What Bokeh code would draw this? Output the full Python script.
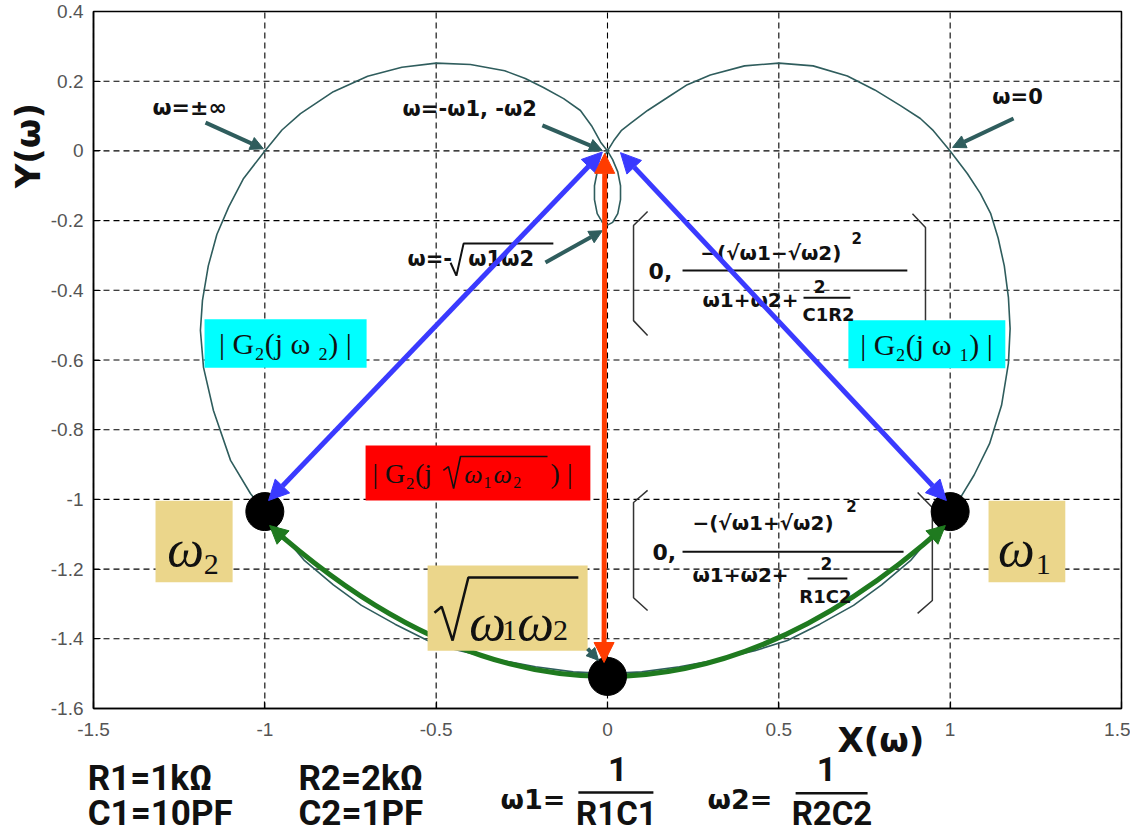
import math
from bokeh.plotting import figure
from bokeh.models import Range1d, FixedTicker, Label, Arrow, NormalHead, LinearAxis
from bokeh.embed import file_html
from bokeh.resources import INLINE

# Locus of G2(jw): w = 0 -> +inf, then -inf -> 0 (small loop around w = -sqrt(w1 w2))
locus_x = [1.000, 1.050, 1.088, 1.118, 1.140, 1.158, 1.170, 1.175, 1.170, 1.150,
           1.115, 1.070, 1.030, 1.000, 0.945, 0.884, 0.800, 0.718, 0.620, 0.525,
           0.430, 0.320, 0.210, 0.100, 0.000, -0.100, -0.210, -0.320, -0.449, -0.525,
           -0.620, -0.718, -0.800, -0.884, -0.945, -1.000, -1.042, -1.100, -1.150, -1.179,
           -1.188, -1.182, -1.165, -1.140, -1.105, -1.062, -1.000, -0.950, -0.896, -0.800,
           -0.700, -0.600, -0.500, -0.400, -0.300, -0.240, -0.187, -0.128, -0.079, -0.045,
           -0.020, 0.000, 0.015, 0.030, 0.038, 0.038, 0.030, 0.015, 0.000, -0.015,
           -0.030, -0.038, -0.038, -0.030, -0.015, 0.000, 0.018, 0.040, 0.067, 0.117,
           0.184, 0.233, 0.300, 0.400, 0.500, 0.600, 0.700, 0.780, 0.855, 0.913,
           0.951, 1.000]
locus_y = [0.000, -0.065, -0.122, -0.179, -0.250, -0.330, -0.420, -0.510, -0.610, -0.730,
           -0.840, -0.930, -0.995, -1.035, -1.105, -1.176, -1.245, -1.304, -1.358, -1.405,
           -1.434, -1.460, -1.480, -1.495, -1.500, -1.495, -1.480, -1.460, -1.430, -1.405,
           -1.358, -1.304, -1.245, -1.176, -1.105, -1.035, -0.983, -0.888, -0.745, -0.621,
           -0.515, -0.429, -0.330, -0.240, -0.160, -0.079, 0.000, 0.060, 0.107, 0.170,
           0.214, 0.240, 0.252, 0.248, 0.230, 0.208, 0.182, 0.150, 0.116, 0.070,
           0.025, 0.000, -0.025, -0.060, -0.100, -0.140, -0.180, -0.205, -0.213, -0.205,
           -0.180, -0.140, -0.100, -0.060, -0.025, 0.000, 0.029, 0.058, 0.079, 0.116,
           0.159, 0.190, 0.218, 0.244, 0.252, 0.244, 0.215, 0.175, 0.130, 0.093,
           0.058, 0.000]

# Marked frequencies: w2, sqrt(w1 w2), w1
mark_x = [-1.0, 0.0, 1.0]
mark_y = [-1.035, -1.508, -1.035]

# Called-out points: w=+-inf, w=-w1,-w2, w=-sqrt(w1 w2), w=0
call_x = [-1.0, 0.0, 0.0, 1.0]
call_y = [0.0, 0.0, -0.213, 0.0]

x_ticks = [-1.5, -1.0, -0.5, 0.0, 0.5, 1.0, 1.5]
x_tick_labels = ["-1.5", "-1", "-0.5", "0", "0.5", "1", "1.5"]
y_ticks = [0.4, 0.2, 0.0, -0.2, -0.4, -0.6, -0.8, -1.0, -1.2, -1.4, -1.6]
y_tick_labels = ["0.4", "0.2", "0", "-0.2", "-0.4", "-0.6", "-0.8", "-1", "-1.2", "-1.4", "-1.6"]

SERIF = "Liberation Serif"
PIX = "DejaVu Sans"
COND = "Roboto"
TEAL = "#2f5d5d"
INK = "#111111"
BLUE = "#3a3aff"
RED = "#ff3c00"
GREEN = "#1f7a1f"
CYAN = "#00ffff"
TAN = "#ebd68b"

X0, X1 = x_ticks[0], x_ticks[-1]
Y0, Y1 = y_ticks[-1], y_ticks[0]

# The canvas is one big frame; the plotting box sits inside it so the captions
# around it (axis titles, component values) can be placed freely.
p = figure(width=1130, height=836, x_range=Range1d(-1.7714, 1.5263), y_range=Range1d(-1.9673, 0.4316),
           output_backend="svg", toolbar_location=None, min_border=0,
           x_axis_location=None, y_axis_location=None)
p.grid.visible = False
p.outline_line_color = None
p.background_fill_color = "white"
p.border_fill_color = "white"

xaxis = LinearAxis(ticker=FixedTicker(ticks=x_ticks), fixed_location=Y0, bounds=(X0, X1),
                   major_label_overrides=dict(zip(x_ticks, x_tick_labels)),
                   major_label_standoff=15)
yaxis = LinearAxis(ticker=FixedTicker(ticks=y_ticks), fixed_location=X0, bounds=(Y0, Y1),
                   major_label_overrides=dict(zip(y_ticks, y_tick_labels)),
                   major_label_standoff=10)
for ax in (xaxis, yaxis):
    ax.axis_line_width = 1.5
    ax.axis_line_color = "black"
    ax.major_tick_in = 7
    ax.major_tick_out = 0
    ax.major_tick_line_color = "black"
    ax.major_tick_line_width = 1.2
    ax.minor_tick_line_color = None
    ax.major_label_text_font = "Liberation Sans"
    ax.major_label_text_font_size = "19px"
    ax.major_label_text_color = "#555555"
p.add_layout(xaxis, "below")
p.add_layout(yaxis, "left")

# dashed grid and the plotting box
nx, ny = len(x_ticks), len(y_ticks)
p.segment(x0=x_ticks, y0=[Y0] * nx, x1=x_ticks, y1=[Y1] * nx,
          line_color="black", line_dash="6 4", line_width=1.1)
p.segment(x0=[X0] * ny, y0=y_ticks, x1=[X1] * ny, y1=y_ticks,
          line_color="black", line_dash="6 4", line_width=1.1)
p.quad(left=[X0], right=[X1], bottom=[Y0], top=[Y1], fill_color=None,
       line_color="black", line_width=1.5)


def put(x, y, text, size, font=PIX, style="bold", align="left", baseline="middle",
        angle=0.0, color=INK):
    p.add_layout(Label(x=x, y=y, text=text, text_font=font, text_font_size=f"{size}px",
                       text_font_style=style, text_align=align, text_baseline=baseline,
                       angle=angle, text_color=color))


def arrow(x0, y0, x1, y1, color, width, size, both=False):
    head = lambda: NormalHead(size=size, fill_color=color, line_color=color)
    p.add_layout(Arrow(x_start=x0, y_start=y0, x_end=x1, y_end=y1,
                       start=head() if both else None, end=head(),
                       line_color=color, line_width=width))


# --- bracketed formula for w = -sqrt(w1 w2) ---
p.line([0.117, 0.076, 0.076, 0.117], [-0.174, -0.214, -0.487, -0.530], line_color="#333", line_width=1.5)
p.line([0.890, 0.928, 0.928, 0.890], [-0.180, -0.220, -0.495, -0.535], line_color="#333", line_width=1.5)
p.line([0.219, 0.875], [-0.343, -0.343], line_color=INK, line_width=2)
p.line([0.572, 0.709], [-0.421, -0.421], line_color=INK, line_width=2)

# --- bracketed formula for w = sqrt(w1 w2) ---
p.line([0.117, 0.076, 0.076, 0.117], [-0.974, -1.009, -1.282, -1.319], line_color="#333", line_width=1.5)
p.line([0.905, 0.948, 0.948, 0.905], [-0.980, -1.023, -1.290, -1.327], line_color="#333", line_width=1.5)
p.line([0.219, 0.864], [-1.150, -1.150], line_color=INK, line_width=2)
p.line([0.584, 0.700], [-1.227, -1.227], line_color=INK, line_width=2)

# radical in the w = -sqrt(w1 w2) call-out
p.line([-0.458, -0.441, -0.420, -0.158], [-0.321, -0.358, -0.266, -0.266], line_color=INK, line_width=2)

# --- the locus itself ---
p.line(locus_x, locus_y, line_color=TEAL, line_width=1.6)

# green arc from w2 through sqrt(w1 w2) to w1
gx0, gy0 = mark_x[0] + 0.014, mark_y[0] - 0.040
gx1, gy1 = mark_x[2] - 0.014, mark_y[2] - 0.040
gcx = mark_x[1]
gcy = 2 * mark_y[1] - 0.5 * (gy0 + gy1)
p.quadratic(x0=[gx0], y0=[gy0], x1=[gx1], y1=[gy1], cx=[gcx], cy=[gcy],
            line_color=GREEN, line_width=5)

# --- coloured boxes ---
p.quad(left=[-1.176, 0.703], right=[-0.703, 1.161], top=[-0.483, -0.486], bottom=[-0.622, -0.624],
       fill_color=CYAN, line_color=None)
p.quad(left=[-0.706], right=[-0.050], top=[-0.845], bottom=[-1.003], fill_color="#ff0000", line_color=None)
p.quad(left=[-1.319, 1.112, -0.525], right=[-1.094, 1.336, -0.058],
       top=[-1.004, -1.004, -1.190], bottom=[-1.238, -1.238, -1.434], fill_color=TAN, line_color=None)

# radicals inside the red and tan boxes
p.line([-0.479, -0.464, -0.449, -0.429, -0.175], [-0.917, -0.906, -0.969, -0.877, -0.877],
       line_color=INK, line_width=1.6)
p.line([-0.505, -0.484, -0.452, -0.406, -0.085], [-1.325, -1.308, -1.405, -1.224, -1.224],
       line_color=INK, line_width=2.5)

# fraction bars of w1, w2 definitions
p.line([-0.085, 0.134], [-1.841, -1.841], line_color=INK, line_width=2.5)
p.line([0.549, 0.759], [-1.843, -1.843], line_color=INK, line_width=2.5)

# frequency markers
p.scatter(mark_x, mark_y, size=38, color="black")

# --- texts of the two formulas ---
put(0.120, -0.344, "0,", 22)
put(0.271, -0.292, "−(√ω1−√ω2)", 20)
put(0.727, -0.249, "2", 15, align="center")
put(0.277, -0.429, "ω1+ω2+", 20)
put(0.619, -0.390, "2", 17, align="center")
put(0.645, -0.470, "C1R2", 18, align="center")

put(0.131, -1.150, "0,", 22)
put(0.248, -1.069, "−(√ω1+√ω2)", 20)
put(0.712, -1.018, "2", 15, align="center")
put(0.248, -1.216, "ω1+ω2+", 20)
put(0.639, -1.185, "2", 17, align="center")
put(0.636, -1.279, "R1C2", 18, align="center")

# --- call-outs ---
put(-1.328, 0.125, "ω=±∞", 22)
put(-0.598, 0.121, "ω=-ω1, -ω2", 21)
put(-0.584, -0.309, "ω=-", 21)
put(-0.406, -0.309, "ω1ω2", 21)
put(1.123, 0.154, "ω=0", 21)

arrow(-1.173, 0.081, call_x[0] - 0.004, call_y[0] + 0.006, TEAL, 4, 13)
arrow(-0.190, 0.073, call_x[1] - 0.015, call_y[1] + 0.001, TEAL, 4, 13)
arrow(-0.181, -0.320, call_x[2] - 0.015, call_y[2] - 0.016, TEAL, 4, 13)
arrow(1.185, 0.093, call_x[3] + 0.007, call_y[3] + 0.010, TEAL, 4, 13)
arrow(-0.058, -1.428, mark_x[1] - 0.026, mark_y[1] + 0.046, TEAL, 4, 12)

# --- box captions ---
put(-0.940, -0.553, "| G₂(j ω ₂) |", 30, font=SERIF, style="normal", align="center")
put(0.931, -0.555, "| G₂(j ω ₁) |", 30, font=SERIF, style="normal", align="center")

put(-0.686, -0.926, "| G₂(j", 28, font=SERIF, style="normal")
put(-0.391, -0.929, "ω", 26, font=SERIF, style="italic", align="center")
put(-0.350, -0.952, "1", 16, font=SERIF, style="normal", align="center")
put(-0.306, -0.929, "ω", 26, font=SERIF, style="italic", align="center")
put(-0.263, -0.952, "2", 16, font=SERIF, style="normal", align="center")
put(-0.166, -0.926, " ) |", 28, font=SERIF, style="normal")

put(-1.231, -1.141, "ω", 52, font=SERIF, style="italic", align="center")
put(-1.156, -1.187, "2", 30, font=SERIF, style="normal", align="center")
put(1.193, -1.141, "ω", 52, font=SERIF, style="italic", align="center")
put(1.272, -1.187, "1", 30, font=SERIF, style="normal", align="center")
put(-0.350, -1.353, "ω", 52, font=SERIF, style="italic", align="center")
put(-0.286, -1.375, "1", 30, font=SERIF, style="normal", align="center")
put(-0.210, -1.353, "ω", 52, font=SERIF, style="italic", align="center")
put(-0.137, -1.375, "2", 30, font=SERIF, style="normal", align="center")

# --- magnitude arrows ---
arrow(call_x[1] - 0.015, call_y[1] - 0.003, mark_x[0] + 0.011, mark_y[0] + 0.032, BLUE, 5, 20, both=True)
arrow(call_x[1] + 0.038, call_y[1] - 0.005, mark_x[2] - 0.011, mark_y[2] + 0.032, BLUE, 5, 20, both=True)
arrow(mark_x[1] - 0.008, call_y[1] - 0.007, mark_x[1] - 0.010, mark_y[1] + 0.040, RED, 5, 20, both=True)

# heads of the green arc
for tx, ty in ((gx0, gy0), (gx1, gy1)):
    ux, uy = gcx - tx, gcy - ty
    n = math.hypot(ux, uy)
    arrow(tx + 0.03 * ux / n, ty + 0.03 * uy / n, tx, ty, GREEN, 0.1, 18)

# --- axis titles and component values around the box ---
put(-1.690, 0.015, "Y(ω)", 34, align="center", angle=math.pi / 2)
put(0.671, -1.689, "X(ω)", 34)

put(-1.517, -1.801, "R1=1kΩ", 35, font=COND)
put(-1.517, -1.902, "C1=10PF", 35, font=COND)
put(-0.902, -1.801, "R2=2kΩ", 35, font=COND)
put(-0.902, -1.902, "C2=1PF", 35, font=COND)

put(-0.312, -1.861, "ω1=", 27)
put(0.030, -1.775, "1", 34, font=COND, align="center")
put(0.026, -1.902, "R1C1", 33, font=COND, align="center")

put(0.292, -1.861, "ω2=", 27)
put(0.639, -1.775, "1", 34, font=COND, align="center")
put(0.655, -1.902, "R2C2", 33, font=COND, align="center")

open("out.html", "w").write(file_html(p, INLINE))
